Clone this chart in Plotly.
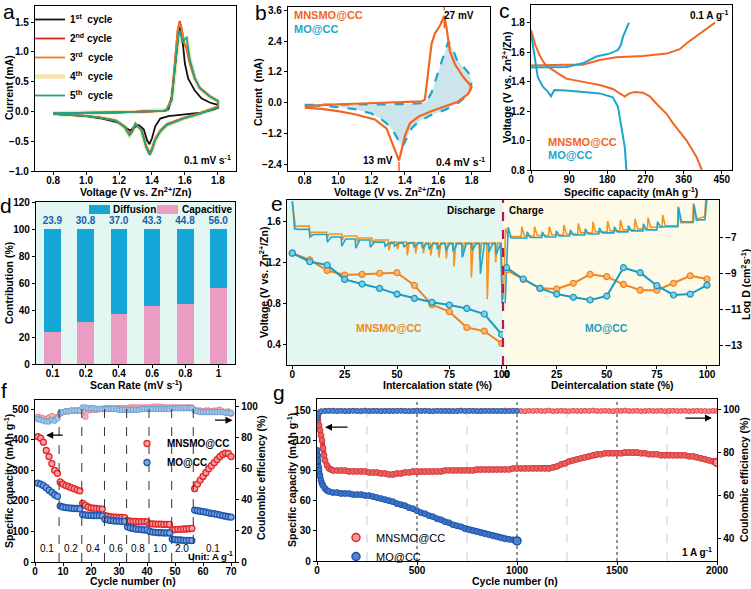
import plotly.graph_objects as go

W, H = 751, 589
FONT = "Arial, Liberation Sans, sans-serif"


def fx(p):
    return p / W


def fy(p):
    return 1 - p / H


# ---------------- Panel a : CV, 5 cycles at 0.1 mV/s ----------------
a_v1 = [0.80, 0.90, 1.00, 1.10, 1.20, 1.30, 1.40, 1.48, 1.50, 1.52, 1.54, 1.56, 1.572, 1.585, 1.60, 1.62, 1.66, 1.70, 1.75, 1.80,
        1.80, 1.77, 1.70, 1.60, 1.50, 1.45, 1.42, 1.40, 1.385, 1.37, 1.35, 1.32, 1.29, 1.27, 1.25, 1.20, 1.10, 1.00, 0.90, 0.80]
a_i1 = [-0.03, -0.03, -0.025, -0.02, -0.015, -0.01, 0.0, 0.01, 0.04, 0.25, 0.75, 1.30, 1.45, 1.20, 0.80, 0.55, 0.35, 0.22, 0.15, 0.11,
        0.06, 0.03, -0.02, -0.05, -0.08, -0.12, -0.25, -0.45, -0.55, -0.48, -0.30, -0.23, -0.27, -0.32, -0.29, -0.19, -0.12, -0.08, -0.06, -0.04]
a_v2 = [0.80, 0.90, 1.00, 1.10, 1.20, 1.30, 1.40, 1.47, 1.49, 1.52, 1.54, 1.555, 1.568, 1.58, 1.595, 1.61, 1.63, 1.66, 1.69, 1.75, 1.80,
        1.80, 1.77, 1.69, 1.59, 1.49, 1.45, 1.42, 1.40, 1.387, 1.365, 1.335, 1.30, 1.28, 1.265, 1.235, 1.18, 1.08, 0.98, 0.876, 0.80]
a_i2 = [-0.03, -0.03, -0.025, -0.02, -0.015, -0.01, 0.0, 0.01, 0.03, 0.22, 0.85, 1.35, 1.52, 1.40, 1.15, 1.05, 0.80, 0.55, 0.40, 0.26, 0.18,
        0.08, 0.05, -0.03, -0.11, -0.21, -0.32, -0.46, -0.62, -0.70, -0.58, -0.30, -0.21, -0.32, -0.37, -0.25, -0.15, -0.10, -0.07, -0.05, -0.04]
a_i3 = [-0.03, -0.03, -0.025, -0.02, -0.015, -0.01, 0.0, 0.01, 0.03, 0.20, 0.82, 1.33, 1.49, 1.38, 1.16, 1.08, 0.82, 0.56, 0.40, 0.26, 0.18,
        0.08, 0.05, -0.03, -0.11, -0.22, -0.33, -0.47, -0.64, -0.73, -0.60, -0.31, -0.21, -0.34, -0.40, -0.26, -0.15, -0.10, -0.07, -0.05, -0.04]
a_v5 = [0.80, 0.90, 1.00, 1.10, 1.20, 1.30, 1.40, 1.47, 1.49, 1.52, 1.54, 1.56, 1.569, 1.586, 1.596, 1.61, 1.63, 1.66, 1.69, 1.75, 1.80,
        1.80, 1.77, 1.69, 1.59, 1.49, 1.45, 1.42, 1.40, 1.386, 1.365, 1.335, 1.30, 1.28, 1.263, 1.233, 1.18, 1.08, 0.98, 0.876, 0.80]
a_i4 = [-0.03, -0.03, -0.025, -0.02, -0.015, -0.01, 0.0, 0.01, 0.025, 0.19, 0.76, 1.25, 1.34, 1.14, 1.20, 1.22, 0.86, 0.56, 0.39, 0.25, 0.17,
        0.07, 0.04, -0.04, -0.12, -0.23, -0.34, -0.48, -0.65, -0.72, -0.60, -0.31, -0.21, -0.34, -0.40, -0.26, -0.16, -0.10, -0.07, -0.05, -0.04]
a_i5 = [-0.03, -0.03, -0.025, -0.02, -0.015, -0.01, 0.0, 0.01, 0.025, 0.19, 0.76, 1.26, 1.36, 1.15, 1.21, 1.24, 0.87, 0.56, 0.39, 0.25, 0.17,
        0.07, 0.04, -0.04, -0.12, -0.23, -0.34, -0.48, -0.65, -0.73, -0.60, -0.31, -0.21, -0.34, -0.40, -0.26, -0.16, -0.10, -0.07, -0.05, -0.04]
a_names = ["1<sup>st</sup>  cycle", "2<sup>nd</sup> cycle", "3<sup>rd</sup>  cycle", "4<sup>th</sup>  cycle", "5<sup>th</sup>  cycle"]

# ---------------- Panel b : CV comparison at 0.4 mV/s ----------------
b_mn_v = [0.80, 0.90, 1.00, 1.10, 1.20, 1.30, 1.40, 1.50, 1.52, 1.54, 1.56, 1.58, 1.61, 1.636, 1.65, 1.67, 1.70, 1.75, 1.80,
          1.80, 1.78, 1.72, 1.65, 1.55, 1.48, 1.43, 1.40, 1.38, 1.365, 1.35, 1.32, 1.29, 1.26, 1.22, 1.10, 1.00, 0.90, 0.80]
b_mn_i = [-0.13, -0.09, -0.06, -0.04, -0.02, 0.0, 0.02, 0.05, 0.12, 1.20, 2.30, 2.70, 3.00, 3.38, 2.90, 2.00, 1.50, 1.00, 0.62,
          0.62, 0.35, 0.05, -0.12, -0.35, -0.55, -0.80, -1.30, -1.80, -2.25, -2.00, -1.50, -1.00, -0.85, -0.65, -0.45, -0.33, -0.24, -0.19]
b_mo_v = [0.80, 0.90, 1.00, 1.10, 1.20, 1.30, 1.40, 1.50, 1.53, 1.56, 1.59, 1.62, 1.645, 1.66, 1.68, 1.71, 1.75, 1.79, 1.80,
          1.80, 1.79, 1.76, 1.72, 1.65, 1.55, 1.48, 1.44, 1.41, 1.385, 1.36, 1.33, 1.29, 1.25, 1.20, 1.10, 1.00, 0.90, 0.80]
b_mo_i = [-0.08, -0.08, -0.08, -0.07, -0.07, -0.06, -0.05, -0.02, 0.05, 0.40, 1.00, 1.60, 2.10, 2.38, 2.20, 1.70, 1.40, 1.10, 0.80,
          0.80, 0.45, 0.20, 0.00, -0.25, -0.50, -0.75, -1.00, -1.40, -1.72, -1.45, -1.10, -0.80, -0.60, -0.42, -0.25, -0.17, -0.12, -0.10]

# ---------------- Panel c : GCD at 0.1 A/g ----------------
c_mn_dis_cap = [0, 5, 10, 20, 30, 40, 60, 83, 120, 162, 193, 210, 221, 232, 245, 264, 280, 296, 320, 335, 367, 390, 403]
c_mn_dis_v = [1.75, 1.70, 1.65, 1.58, 1.53, 1.50, 1.46, 1.42, 1.40, 1.377, 1.35, 1.32, 1.298, 1.32, 1.33, 1.325, 1.30, 1.25, 1.18, 1.117, 1.0, 0.89, 0.80]
c_mn_ch_cap = [0, 40, 80, 122, 162, 201, 264, 320, 351, 367, 399, 434]
c_mn_ch_v = [1.51, 1.515, 1.515, 1.515, 1.547, 1.565, 1.574, 1.59, 1.62, 1.66, 1.728, 1.80]
c_mo_dis_cap = [0, 4, 8, 16, 28, 40, 47, 55, 83, 130, 162, 193, 205, 213, 221, 225]
c_mo_dis_v = [1.73, 1.65, 1.57, 1.43, 1.366, 1.33, 1.30, 1.343, 1.34, 1.33, 1.32, 1.293, 1.23, 1.094, 0.958, 0.80]
c_mo_ch_cap = [0, 40, 83, 122, 140, 154, 185, 205, 212, 217, 231]
c_mo_ch_v = [1.495, 1.495, 1.50, 1.524, 1.55, 1.57, 1.59, 1.614, 1.65, 1.705, 1.80]

# ---------------- Panel d : capacitive contribution ----------------
d_rates = ["0.1", "0.2", "0.4", "0.6", "0.8", "1"]
d_capacitive = [23.9, 30.8, 37.0, 43.3, 44.8, 56.0]
d_diffusion = [76.1, 69.2, 63.0, 56.7, 55.2, 44.0]

# ---------------- Panel e : GITT ----------------
e_mn_dis_x = [1.2, 8.1, 16.4, 23.6, 30.8, 38.0, 45.8, 49.9, 54.6, 58.6, 62.3, 65.8, 69.7, 73.2, 76.9, 80.9, 85.2, 89.2, 92.8, 96.8]
e_mn_dis_low = [1.55, 1.47, 1.44, 1.42, 1.40, 1.38, 1.32, 1.33, 1.27, 1.29, 1.29, 1.27, 1.25, 1.24, 1.16, 1.26, 1.05, 1.22, 0.84, 1.20]
e_mn_dis_rest = [1.557, 1.495, 1.48, 1.46, 1.44, 1.42, 1.40, 1.40, 1.395, 1.395, 1.39, 1.39, 1.39, 1.39, 1.39, 1.39, 1.39, 1.39, 1.39, 1.39]
e_mo_dis_x = [0.8, 8.1, 16.4, 23.3, 30.0, 37.0, 44.0, 48.5, 53.0, 57.8, 61.8, 65.0, 69.0, 73.0, 76.5, 80.9, 85.6, 89.5, 93.5, 97.0]
e_mo_dis_low = [1.53, 1.45, 1.40, 1.36, 1.34, 1.35, 1.36, 1.36, 1.35, 1.35, 1.34, 1.33, 1.33, 1.32, 1.31, 1.25, 1.32, 1.09, 1.30, 1.28]
e_mo_dis_rest = [1.525, 1.475, 1.45, 1.43, 1.42, 1.40, 1.39, 1.39, 1.39, 1.39, 1.385, 1.385, 1.385, 1.385, 1.385, 1.385, 1.385, 1.385, 1.385, 1.385]
e_mn_ch_x = [-0.8, 7.3, 13.7, 21.0, 28.3, 35.5, 42.8, 50.1, 56.5, 63.8, 70.3, 77.6, 85.3, 92.9]
e_mn_ch_peak = [1.535, 1.55, 1.55, 1.55, 1.567, 1.584, 1.60, 1.607, 1.617, 1.627, 1.64, 1.666, 1.748, 1.78]
e_mn_ch_rest = [1.455, 1.46, 1.465, 1.47, 1.48, 1.49, 1.50, 1.51, 1.52, 1.53, 1.545, 1.56, 1.59, 1.62]
e_mo_ch_x = [0.5, 10.0, 17.5, 24.5, 31.5, 39.0, 46.0, 53.5, 60.5, 68.0, 75.0, 85.5, 93.2]
e_mo_ch_peak = [1.545, 1.50, 1.50, 1.51, 1.52, 1.53, 1.54, 1.55, 1.56, 1.58, 1.60, 1.74, 1.77]
e_mo_ch_rest = [1.44, 1.445, 1.45, 1.46, 1.47, 1.48, 1.49, 1.50, 1.51, 1.52, 1.55, 1.60, 1.615]
e_state = [0, 8.33, 16.67, 25, 33.33, 41.67, 50, 58.33, 66.67, 75, 83.33, 91.67, 100]
e_mn_logd_dis = [-7.88, -8.26, -8.85, -9.10, -9.06, -9.00, -8.97, -9.68, -10.75, -11.14, -12.02, -12.22, -12.91]
e_mo_logd_dis = [-7.88, -8.36, -8.54, -9.34, -9.60, -9.84, -10.16, -10.40, -10.62, -10.77, -10.96, -11.27, -12.41]
e_mn_logd_ch = [-8.82, -9.34, -9.84, -9.88, -9.56, -9.06, -9.19, -9.62, -9.94, -9.94, -9.56, -9.14, -9.32]
e_mo_logd_ch = [-8.69, -9.32, -9.84, -10.16, -10.34, -10.49, -10.27, -8.69, -8.97, -9.69, -10.21, -10.16, -9.66]

# ---------------- Panel f : rate capability ----------------
f_cycle = list(range(1, 71))
f_mn_cap = [410, 405, 392, 365, 345, 322, 300, 290,
            262, 255, 250, 247, 243, 240, 236, 233,
            192, 185, 180, 177, 176, 175, 174, 173,
            152, 150, 148, 147, 147, 146, 146, 145,
            135, 134, 133, 133, 132, 132, 132, 131,
            125, 125, 124, 124, 124, 123, 123, 123,
            105, 106, 107, 107, 108, 108, 109, 110,
            240, 255, 268, 280, 292, 305, 315, 325, 335, 345, 352, 356, 355, 345]
f_mo_cap = [258, 255, 250, 243, 235, 228, 220, 215,
            183, 180, 178, 177, 176, 175, 175, 174,
            155, 154, 153, 153, 152, 152, 152, 151,
            140, 138, 136, 135, 134, 134, 133, 133,
            115, 112, 110, 108, 107, 106, 105, 105,
            100, 98, 97, 96, 96, 95, 95, 95,
            75, 73, 72, 72, 71, 71, 71, 70,
            170, 168, 166, 165, 163, 161, 159, 158, 156, 154, 152, 150, 148, 147]
f_mn_ce = [93.5, 93, 92.5, 92, 93, 94, 91.5, 93.5, 95.5, 96.5, 97, 97, 97.5, 97.5, 97.5, 97.5, 97, 93.5, 97.5, 98,
           98, 98, 98.5, 98.5, 99, 99, 99, 99, 99, 99, 99, 99, 99, 99.5, 99.5, 99.5, 99.5, 99.5, 99.5, 99.5,
           99.5, 100, 100, 100, 100, 99.5, 99.5, 99.5, 99.5, 99.5, 99.5, 99.5, 99.5, 99.5, 99.5, 99.5, 98, 97.5, 97.5, 97,
           97.5, 97.5, 97, 97.5, 97.5, 98, 97, 96.5, 97, 95.5]
f_mo_ce = [92, 91.5, 91, 90.5, 90.5, 91.5, 91, 92.5, 96, 96.5, 97, 97, 97.5, 97.5, 97.5, 97.5, 99.5, 99.5, 99, 99,
           99, 98.5, 98.5, 98.5, 98.5, 98.5, 98.5, 98.5, 98.5, 98, 98, 98, 98, 98, 98, 98, 98, 98.5, 98.5, 98.5,
           98.5, 98.5, 98.5, 98.5, 98.5, 98.5, 98.5, 98.5, 99, 99, 99, 99, 99, 99, 99, 99, 97.5, 97, 96.5, 96.5,
           96.5, 96.5, 96.5, 96.5, 96.5, 96.5, 96.5, 96, 96, 96]
f_rate_labels = ["0.1", "0.2", "0.4", "0.6", "0.8", "1.0", "2.0", "0.1"]
f_rate_pos = [4.3, 12.8, 20.8, 28.8, 36.7, 44.6, 52.4, 63.7]
f_switch = [8.6, 16.7, 24.8, 32.7, 40.7, 48.8, 56.5]

# ---------------- Panel g : long cycling at 1 A/g ----------------
g_mn_cyc = [1, 5, 10, 15, 20, 25, 30, 35, 40, 50, 60, 70, 80] + list(range(100, 2001, 20))
g_mn_cap = [143, 140, 135, 130, 125, 120, 112, 105, 100, 95, 92, 91, 90,
            90, 90, 90, 89, 89, 89, 89, 89, 88, 88, 88,
            87, 87, 86, 86, 87, 87, 88, 88, 89, 89,
            89, 89, 89, 89, 89, 89, 90, 90, 90, 90,
            90, 90, 90, 90, 91, 91, 91, 91, 91, 91,
            91, 91, 91, 92, 92, 92, 92, 92, 92, 92,
            92, 92, 92, 93, 94, 96, 97, 99, 100, 101,
            102, 103, 104, 105, 106, 106, 107, 107, 107, 107,
            107, 108, 108, 108, 108, 107, 107, 106, 106, 106,
            105, 105, 105, 105, 105, 105, 105, 104, 104, 103,
            102, 101, 100, 99, 98]
g_mo_cyc = [1, 3, 5, 8, 10, 13, 15, 20, 25, 30, 40, 50, 60, 80] + list(range(100, 1001, 20))
g_mo_cap = [110, 105, 100, 93, 90, 86, 84, 80, 77, 75, 72, 70, 69, 68,
            68, 67, 67, 67, 66, 66, 66, 65, 65, 64, 63,
            62, 61, 60, 59, 57, 56, 55, 53, 52, 50,
            48, 47, 45, 44, 42, 41, 39, 38, 36, 35,
            34, 32, 31, 30, 29, 28, 27, 26, 25, 24,
            23, 22, 21.5, 21, 20]
g_mn_ce_cyc = [1, 3, 5, 10] + list(range(20, 2001, 20))
g_mn_ce = [97.0, 96.5, 97.5, 98.8,
           99.4, 99.6, 99.5, 99.7, 99.5, 99.6, 99.4, 99.5, 99.6, 99.5,
           99.5, 99.7, 99.4, 99.6, 99.5, 99.5, 99.6, 99.4, 99.5, 99.6,
           99.6, 99.5, 99.5, 99.4, 99.7, 99.5, 99.6, 99.5, 99.4, 99.6,
           99.5, 99.6, 99.4, 99.5, 99.5, 99.7, 99.5, 99.6, 99.5, 99.4,
           99.6, 99.5, 99.5, 99.6, 99.4, 99.5, 99.7, 99.5, 99.5, 99.6,
           99.5, 99.4, 99.6, 99.5, 99.6, 99.5, 99.5, 99.7, 99.4, 99.5,
           99.6, 99.5, 99.4, 99.6, 99.5, 99.5, 99.6, 99.5, 99.7, 99.5,
           99.5, 99.6, 99.5, 99.4, 99.6, 99.5, 99.7, 99.5, 99.5, 99.6,
           99.4, 99.5, 99.6, 99.5, 99.5, 99.6, 99.4, 99.5, 99.6, 99.5,
           99.5, 99.6, 99.4, 99.5, 99.6, 99.5, 99.5, 99.4, 99.6, 99.5]
g_mo_ce_cyc = [1, 3, 5, 10] + list(range(20, 1001, 20))
g_mo_ce = [96.0, 96.5, 97.5, 98.5,
           99.3, 99.5, 99.6, 99.5, 99.4, 99.6, 99.5, 99.5, 99.6, 99.5,
           99.4, 99.6, 99.5, 99.5, 99.6, 99.4, 99.5, 99.6, 99.5, 99.5,
           99.6, 99.5, 99.4, 99.6, 99.5, 99.5, 99.6, 99.5, 99.4, 99.6,
           99.5, 99.5, 99.6, 99.4, 99.5, 99.6, 99.5, 99.5, 99.6, 99.5,
           99.4, 99.6, 99.5, 99.5, 99.6, 99.5, 99.4, 99.5, 99.6, 99.5]
g_lines_light = [250, 750, 1250, 1750]
g_lines_dark = [500, 1000, 1500]

# ---------------- colours ----------------
C_ORANGE = "#f26522"
C_BLUE = "#1ea5cc"
C_E_OR = "#f7941d"
C_E_BL = "#1fa7c9"
C_DIFF = "#13a6d6"
C_CAPA = "#eb9cc2"

fig = go.Figure()

# ---- panel a traces ----
a_sets = [(a_v5, a_i4, "#f6e3b0", 4.5, 3), (a_v1, a_i1, "#111111", 1.8, 0), (a_v2, a_i2, "#e3261b", 1.8, 1),
          (a_v2, a_i3, "#f47a21", 1.8, 2), (a_v5, a_i5, "#1aa58b", 1.8, 4)]
for vv, ii, col, lw, k in a_sets:
    fig.add_trace(go.Scatter(x=vv, y=ii, mode="lines", line=dict(color=col, width=lw), name=a_names[k],
                             legend="legend", legendrank=k + 1, xaxis="x", yaxis="y"))

# ---- panel b traces ----
fig.add_trace(go.Scatter(x=b_mo_v, y=b_mo_i, mode="lines", fill="toself", fillcolor="rgba(110,180,195,0.35)",
                         line=dict(color=C_BLUE, width=2.2, dash="dash"), showlegend=False, xaxis="x2", yaxis="y2"))
fig.add_trace(go.Scatter(x=b_mn_v, y=b_mn_i, mode="lines", line=dict(color=C_ORANGE, width=2.2),
                         showlegend=False, xaxis="x2", yaxis="y2"))

# ---- panel c traces ----
for xx, yy, col in [(c_mn_dis_cap, c_mn_dis_v, C_ORANGE), (c_mn_ch_cap, c_mn_ch_v, C_ORANGE),
                    (c_mo_dis_cap, c_mo_dis_v, C_BLUE), (c_mo_ch_cap, c_mo_ch_v, C_BLUE)]:
    fig.add_trace(go.Scatter(x=xx, y=yy, mode="lines", line=dict(color=col, width=2),
                             showlegend=False, xaxis="x3", yaxis="y3"))

# ---- panel d traces ----
fig.add_trace(go.Bar(x=d_rates, y=d_capacitive, width=0.5, marker=dict(color=C_CAPA, line=dict(width=0)),
                     name="Capacitive", showlegend=False, xaxis="x4", yaxis="y4"))
fig.add_trace(go.Bar(x=d_rates, y=d_diffusion, width=0.5, marker=dict(color=C_DIFF, line=dict(width=0)),
                     name="Diffusion", showlegend=False, xaxis="x4", yaxis="y4",
                     text=[f"{v:.1f}" for v in d_capacitive], textposition="outside", cliponaxis=False,
                     constraintext="none",
                     textfont=dict(color="#1b5ca6", size=10, family=FONT, weight="bold")))


# ---- panel e traces ----
def gitt(start, xs, ext, rest, end, dx):
    X = [p[0] for p in start]
    Y = [p[1] for p in start]
    for k in range(len(xs)):
        if k > 0:
            X.append(xs[k]); Y.append(rest[k - 1])
        X.append(xs[k] + 0.3); Y.append(ext[k])
        X.append(xs[k] + dx); Y.append(rest[k])
    X += [p[0] for p in end]
    Y += [p[1] for p in end]
    return X, Y


ex, ey = gitt([(0.0, 1.80)], e_mn_dis_x, e_mn_dis_low, e_mn_dis_rest, [(99.8, 1.39), (100.3, 0.84)], 1.2)
fig.add_trace(go.Scatter(x=ex, y=ey, mode="lines", line=dict(color=C_E_OR, width=1.6), showlegend=False, xaxis="x5", yaxis="y5"))
ex, ey = gitt([(0.0, 1.80)], e_mo_dis_x, e_mo_dis_low, e_mo_dis_rest, [(99.5, 1.385), (100.2, 0.80)], 2.2)
fig.add_trace(go.Scatter(x=ex, y=ey, mode="lines", line=dict(color=C_E_BL, width=1.6), showlegend=False, xaxis="x5", yaxis="y5"))
ex, ey = gitt([(-1.6, 0.84)], e_mn_ch_x, e_mn_ch_peak, e_mn_ch_rest, [(98.8, 1.65), (99.4, 1.82)], 1.6)
fig.add_trace(go.Scatter(x=ex, y=ey, mode="lines", line=dict(color=C_E_OR, width=1.6), showlegend=False, xaxis="x8", yaxis="y5"))
ex, ey = gitt([(-0.7, 0.80)], e_mo_ch_x, e_mo_ch_peak, e_mo_ch_rest, [(99.0, 1.62), (100.0, 1.83)], 1.8)
fig.add_trace(go.Scatter(x=ex, y=ey, mode="lines", line=dict(color=C_E_BL, width=1.6), showlegend=False, xaxis="x8", yaxis="y5"))

mk_or = dict(symbol="circle", size=6, color="#fbb872", line=dict(color="#f07f1a", width=1.2))
mk_bl = dict(symbol="circle", size=6, color="#7fd0e6", line=dict(color="#1796bd", width=1.2))
for xa, yy, col, mk in [("x5", e_mn_logd_dis, "#f5821f", mk_or), ("x5", e_mo_logd_dis, "#1a9cc2", mk_bl),
                        ("x8", e_mn_logd_ch, "#f5821f", mk_or), ("x8", e_mo_logd_ch, "#1a9cc2", mk_bl)]:
    fig.add_trace(go.Scatter(x=e_state, y=yy, mode="lines+markers", line=dict(color=col, width=2), marker=mk,
                             showlegend=False, xaxis=xa, yaxis="y6"))

# ---- panel f traces ----
fig.add_trace(go.Scatter(x=f_cycle, y=f_mn_ce, mode="markers",
                         marker=dict(size=5.5, color="#f6b3b8", line=dict(color="#ec7b86", width=1)),
                         showlegend=False, xaxis="x6", yaxis="y8"))
fig.add_trace(go.Scatter(x=f_cycle, y=f_mo_ce, mode="markers",
                         marker=dict(size=5.5, color="#a9c9e6", line=dict(color="#6a9fd0", width=1)),
                         showlegend=False, xaxis="x6", yaxis="y8"))
fig.add_trace(go.Scatter(x=f_cycle, y=f_mn_cap, mode="markers", name="MNSMO@CC", legend="legend3",
                         marker=dict(size=6, color="#f7a0a0", line=dict(color="#e0262b", width=1.3)),
                         xaxis="x6", yaxis="y7"))
fig.add_trace(go.Scatter(x=f_cycle, y=f_mo_cap, mode="markers", name="MO@CC", legend="legend3",
                         marker=dict(size=6, color="#7fa6de", line=dict(color="#1d55b0", width=1.3)),
                         xaxis="x6", yaxis="y7"))

# ---- panel g traces ----
fig.add_trace(go.Scatter(x=g_mn_ce_cyc, y=g_mn_ce, mode="lines+markers", line=dict(color="#e44a4a", width=3),
                         marker=dict(size=5, color="#ee8a8a", line=dict(color="#e0363a", width=0.8)),
                         showlegend=False, xaxis="x7", yaxis="y10"))
fig.add_trace(go.Scatter(x=g_mo_ce_cyc, y=g_mo_ce, mode="lines+markers", line=dict(color="#1f5fb8", width=3),
                         marker=dict(size=5, color="#4f86d2", line=dict(color="#1a55ab", width=0.8)),
                         showlegend=False, xaxis="x7", yaxis="y10"))
fig.add_trace(go.Scatter(x=g_mn_cyc, y=g_mn_cap, mode="lines+markers", line=dict(color="#db3a3a", width=5),
                         marker=dict(size=6, color="#e86060", line=dict(color="#d22f30", width=0.8)),
                         showlegend=False, xaxis="x7", yaxis="y9"))
fig.add_trace(go.Scatter(x=g_mo_cyc, y=g_mo_cap, mode="lines+markers", line=dict(color="#1d58b4", width=5),
                         marker=dict(size=6, color="#3a74c8", line=dict(color="#1a4fa3", width=0.8)),
                         showlegend=False, xaxis="x7", yaxis="y9"))
fig.add_trace(go.Scatter(x=g_mn_cyc[-1:], y=g_mn_cap[-1:], mode="markers", name="MNSMO@CC", legend="legend4",
                         marker=dict(size=8, color="#f19a9a", line=dict(color="#d9262b", width=1.5)),
                         xaxis="x7", yaxis="y9"))
fig.add_trace(go.Scatter(x=g_mo_cyc[-1:], y=g_mo_cap[-1:], mode="markers", name="MO@CC", legend="legend4",
                         marker=dict(size=8, color="#4f86d2", line=dict(color="#1a4fa3", width=1.5)),
                         xaxis="x7", yaxis="y9"))

# ---------------- axes ----------------
TF = dict(family=FONT, size=10, color="black", weight="bold")


def axis(dom, rng, **kw):
    d = dict(domain=dom, range=rng, showline=True, linecolor="black", linewidth=1.3, mirror=True,
             ticks="outside", ticklen=3, tickwidth=1.1, tickcolor="black", showgrid=False, zeroline=False,
             tickfont=TF, automargin=False, fixedrange=True)
    d.update(kw)
    return d


def xax(dom, rng, **kw):
    return axis(dom, rng, ticklabelstandoff=-3, **kw)


lay = {}
V_TICKS = [0.8, 1.0, 1.2, 1.4, 1.6, 1.8]
lay["xaxis"] = xax([fx(35), fx(236)], [0.69, 1.91], anchor="y", tickvals=V_TICKS, tickformat=".1f")
lay["yaxis"] = axis([fy(171), fy(6)], [-1.0, 1.77], anchor="x", tickvals=[-1.0, -0.5, 0.0, 0.5, 1.0, 1.5], tickformat=".1f")
lay["xaxis2"] = xax([fx(288), fx(490)], [0.7, 1.91], anchor="y2", tickvals=V_TICKS, tickformat=".1f")
lay["yaxis2"] = axis([fy(171), fy(7)], [-2.66, 3.73], anchor="x2", tickvals=[-2.4, -1.2, 0.0, 1.2, 2.4, 3.6], tickformat=".1f")
lay["xaxis3"] = xax([fx(531), fx(732)], [0, 474], anchor="y3", tickvals=[0, 90, 180, 270, 360, 450])
lay["yaxis3"] = axis([fy(170), fy(5)], [0.8, 1.92], anchor="x3", tickvals=V_TICKS, tickformat=".1f")
lay["xaxis4"] = xax([fx(36), fx(235)], [-0.5, 5.5], anchor="y4", type="category")
lay["yaxis4"] = axis([fy(364), fy(202)], [0, 120], anchor="x4", tickvals=[0, 20, 40, 60, 80, 100, 120])
lay["xaxis5"] = xax([fx(287), fx(503)], [-2.53, 100.6], anchor="y5", tickvals=[0, 25, 50, 75, 100])
lay["xaxis8"] = xax([fx(503), fx(719)], [-1.79, 106.0], anchor="y5", tickvals=[0, 25, 50, 75, 100])
lay["yaxis5"] = axis([fy(365), fy(200)], [0.194, 1.813], anchor="x5", mirror=False, tickvals=[0.4, 0.8, 1.2, 1.6], tickformat=".1f")
lay["yaxis6"] = axis([fy(365), fy(200)], [-14.11, -4.92], anchor="x8", overlaying="y5", side="right", mirror=False,
                     tickvals=[-13, -11, -9, -7])
lay["xaxis6"] = xax([fx(35), fx(235)], [0, 71.4], anchor="y7", tickvals=[0, 10, 20, 30, 40, 50, 60, 70])
lay["yaxis7"] = axis([fy(562), fy(400)], [0, 530], anchor="x6", mirror=False, tickvals=[0, 100, 200, 300, 400, 500])
lay["yaxis8"] = axis([fy(562), fy(400)], [0, 104.3], anchor="x6", overlaying="y7", side="right", mirror=False,
                     tickvals=[0, 20, 40, 60, 80, 100])
lay["xaxis7"] = xax([fx(317), fx(717)], [0, 2000], anchor="y9", tickvals=[0, 500, 1000, 1500, 2000])
lay["yaxis9"] = axis([fy(561), fy(399)], [0, 161], anchor="x7", mirror=False, tickvals=[0, 30, 60, 90, 120, 150])
lay["yaxis10"] = axis([fy(561), fy(399)], [29.4, 105.1], anchor="x7", overlaying="y9", side="right", mirror=False,
                      tickvals=[40, 60, 80, 100])

# ---------------- shapes ----------------
shapes = []
shapes.append(dict(type="rect", xref="x4 domain", yref="y4 domain", x0=0, x1=1, y0=0, y1=1,
                   fillcolor="#e2f6f2", line=dict(width=0), layer="below"))
shapes.append(dict(type="rect", xref="x5 domain", yref="y5 domain", x0=0, x1=1, y0=0, y1=1,
                   fillcolor="#e3f6f2", line=dict(width=0), layer="below"))
shapes.append(dict(type="rect", xref="x8 domain", yref="y5 domain", x0=0, x1=1, y0=0, y1=1,
                   fillcolor="#fdfbe7", line=dict(width=0), layer="below"))
shapes.append(dict(type="line", xref="paper", yref="y5 domain", x0=fx(503), x1=fx(503), y0=0, y1=1,
                   line=dict(color="#b3185c", width=2.2, dash="dash")))
shapes.append(dict(type="line", xref="x2", yref="y2", x0=1.636, x1=1.636, y0=2.9, y1=3.73,
                   line=dict(color=C_ORANGE, width=1.5, dash="dash")))
shapes.append(dict(type="line", xref="x2", yref="y2", x0=1.365, x1=1.365, y0=-2.66, y1=-1.95,
                   line=dict(color=C_ORANGE, width=1.5, dash="dash")))
for xv in f_switch:
    shapes.append(dict(type="line", xref="x6", yref="y7 domain", x0=xv, x1=xv, y0=0, y1=1,
                       line=dict(color="#333333", width=1, dash="dash")))
for xv in g_lines_light:
    shapes.append(dict(type="line", xref="x7", yref="y9 domain", x0=xv, x1=xv, y0=0, y1=1,
                       line=dict(color="#c9ccd6", width=1, dash="dash"), layer="below"))
for xv in g_lines_dark:
    shapes.append(dict(type="line", xref="x7", yref="y9 domain", x0=xv, x1=xv, y0=0, y1=1,
                       line=dict(color="#222222", width=1, dash="dot"), layer="below"))
for (x0, x1), col in [((89, 110), C_DIFF), ((157, 178), C_CAPA)]:
    shapes.append(dict(type="rect", xref="paper", yref="paper", x0=fx(x0), x1=fx(x1), y0=fy(214), y1=fy(205),
                       fillcolor=col, line=dict(width=0)))

# ---------------- annotations ----------------
ann = []


def txt(x, y, s, size=10, color="black", xanchor="center", weight="bold", angle=0):
    ann.append(dict(x=fx(x), y=fy(y), xref="paper", yref="paper", text=s, showarrow=False, xanchor=xanchor,
                    yanchor="middle", textangle=angle,
                    font=dict(family=FONT, size=size, color=color, weight=weight)))


VOLT = "Voltage (V vs. Zn<sup>2+</sup>/Zn)"
CAP = "Specific capacity (mAh g<sup>-1</sup>)"
TS = 10.5
txt(135, 191, VOLT, TS)
txt(9, 88, "Current (mA)", TS, angle=-90)
txt(389, 191, VOLT, TS)
txt(258, 92, "Current  (mA)", TS, angle=-90)
txt(631, 191, "Specific capacity (mAh g<sup>-1</sup>)", TS)
txt(507, 88, VOLT, TS, angle=-90)
txt(136, 384, "Scan Rate (mV s<sup>-1</sup>)", TS)
txt(9, 283, "Contribution (%)", TS, angle=-90)
txt(437, 385, "Intercalation state (%)", TS)
txt(612, 385, "Deintercalation state (%)", TS)
txt(263, 283, VOLT, TS, angle=-90)
txt(745, 285, "Log D (cm<sup>2</sup>s<sup>-1</sup>)", TS, angle=-90)
txt(133, 581, "Cycle number (n)", TS)
txt(8, 481, CAP, TS, angle=-90)
txt(261, 478, "Coulombic efficiency (%)", TS, angle=-90)
txt(515, 581, "Cycle number (n)", TS)
txt(291, 480, CAP, TS, angle=-90)
txt(744, 480, "Coulombic efficiency (%)", TS, angle=-90)

for lab, px_, py_ in [("a", 9, 12), ("b", 261, 13), ("c", 505, 11), ("d", 6, 205), ("e", 277, 203), ("f", 4, 390), ("g", 279, 392)]:
    txt(px_, py_, lab, size=21, weight="normal")

txt(233, 160, "0.1 mV s<sup>-1</sup>", xanchor="right")
txt(292, 15, "MNSMO@CC", size=11, color=C_ORANGE, xanchor="left")
txt(292, 29, "MO@CC", size=11, color=C_BLUE, xanchor="left")
txt(459, 15, "27 mV")
txt(378, 160, "13 mV")
txt(487, 162, "0.4 mV s<sup>-1</sup>", size=10.5, xanchor="right")
txt(730, 15, "0.1 A g<sup>-1</sup>", xanchor="right")
txt(546, 142, "MNSMO@CC", size=11, color=C_ORANGE, xanchor="left")
txt(546, 155, "MO@CC", size=11, color=C_BLUE, xanchor="left")
txt(111, 209.5, "Diffusion", size=10, xanchor="left")
txt(180, 209.5, "Capacitive", size=10, xanchor="left")
txt(471, 210, "Discharge")
txt(526, 210, "Charge")
txt(389, 328, "MNSMO@CC", size=10.5, color="#f08a1c")
txt(606, 328, "MO@CC", size=10.5, color="#1a9cc2")
txt(210, 556, "Unit: A g<sup>-1</sup>", size=9.5)
txt(714, 552, "1 A g<sup>-1</sup>", xanchor="right")

for lab, xv in zip(f_rate_labels, f_rate_pos):
    ann.append(dict(x=xv, y=44, xref="x6", yref="y7", text=lab, showarrow=False,
                    font=dict(family=FONT, size=10, color="black", weight="normal")))

for xv, yv, xr, yr, axp in [(4, 415, "x6", "y7", 18), (70.5, 464, "x6", "y7", -19),
                            (40, 133, "x7", "y9", 24), (1975, 142, "x7", "y9", -28)]:
    ann.append(dict(x=xv, y=yv, xref=xr, yref=yr, ax=axp, ay=0, text="", showarrow=True, arrowhead=2,
                    arrowsize=1, arrowwidth=1.4, arrowcolor="black"))

LF = dict(family=FONT, size=10, color="black", weight="bold")
fig.update_layout(
    width=W, height=H, autosize=False,
    margin=dict(l=0, r=0, t=0, b=0, pad=0),
    paper_bgcolor="white", plot_bgcolor="rgba(0,0,0,0)",
    font=dict(family=FONT, size=10, color="black"),
    barmode="stack", showlegend=True,
    legend=dict(x=fx(30), y=fy(5), xanchor="left", yanchor="top", bgcolor="rgba(0,0,0,0)", font=LF,
                tracegroupgap=0, itemwidth=30, traceorder="normal"),
    legend3=dict(x=fx(127), y=fy(429), xanchor="left", yanchor="top", bgcolor="rgba(0,0,0,0)", font=LF,
                 tracegroupgap=0, itemwidth=30, traceorder="normal"),
    legend4=dict(x=fx(336), y=fy(523), xanchor="left", yanchor="top", bgcolor="rgba(0,0,0,0)",
                 font=dict(family=FONT, size=11, color="black", weight="normal"), tracegroupgap=0, itemwidth=30,
                 traceorder="normal"),
    shapes=shapes, annotations=ann,
    **lay,
)

fig.write_html("out.html", config={"displayModeBar": False},
               post_script="document.body.style.margin='0px';document.body.style.overflow='hidden';")
